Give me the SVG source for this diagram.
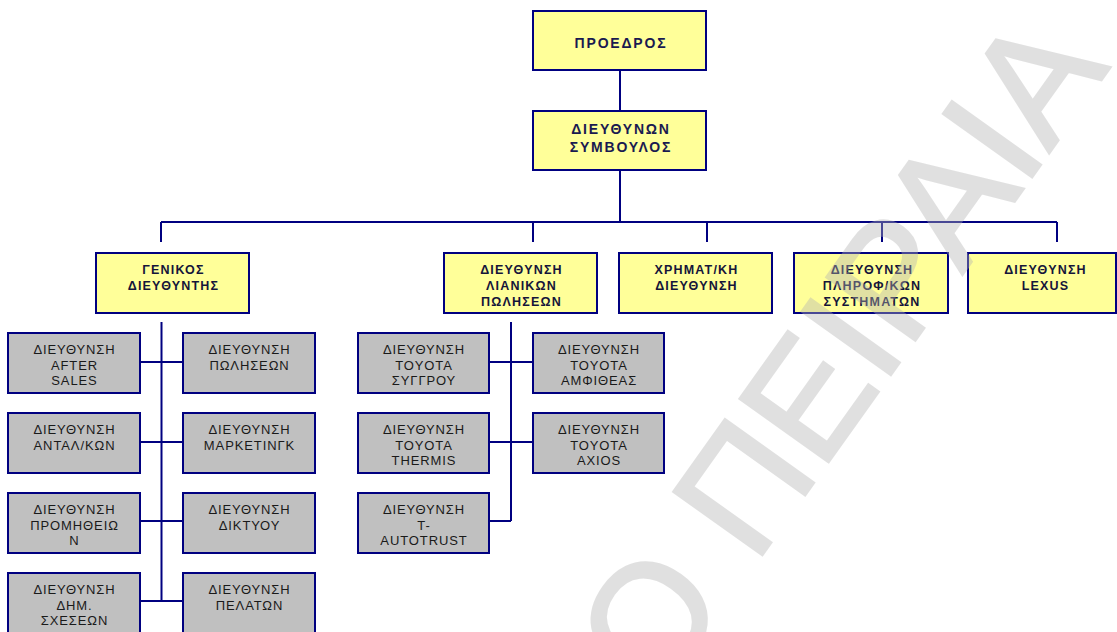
<svg xmlns="http://www.w3.org/2000/svg" width="1117" height="632" viewBox="0 0 1117 632">
<style>
.y{fill:#ffff99;stroke:#000080;stroke-width:2}
.g{fill:#c0c0c0;stroke:#000080;stroke-width:2}
.c{stroke:#000080;stroke-width:2;fill:none}
.t1{font-family:"Liberation Sans",Arial,sans-serif;font-weight:bold;font-size:14px;letter-spacing:1.8px;fill:#1a1a50;text-anchor:middle}
.t2{font-family:"Liberation Sans",Arial,sans-serif;font-weight:bold;font-size:12.5px;letter-spacing:1.2px;fill:#15153a;text-anchor:middle}
.t3{font-family:"Liberation Sans",Arial,sans-serif;font-size:13px;letter-spacing:0.9px;fill:#1a1a1a;text-anchor:middle}
.wm{font-family:"Liberation Sans",Arial,sans-serif;font-size:158px;fill:#b4b4b4;stroke:#b4b4b4;stroke-width:3;opacity:0.4}
</style>
<rect width="1117" height="632" fill="#ffffff"/>
<g id="connectors">
<path class="c" d="M620 70V111M620 170V222M161 222H1057M161 222V242M533 222V242M707 222V242M882 222V242M1057 222V242"/>
<path class="c" d="M161.5 322V601M140 362H183M140 442H183M140 521H183M140 601H183"/>
<path class="c" d="M511 322V521M489 362H533M489 442H533M489 521H511"/>
</g>
<g id="n-proedros"><rect class="y" x="533" y="11" width="173" height="59"/><text class="t1" x="621" y="48">ΠΡΟΕΔΡΟΣ</text></g>
<g id="n-ceo"><rect class="y" x="533" y="111" width="173" height="59"/><text class="t1" x="621" y="133.5">ΔΙΕΥΘΥΝΩΝ</text><text class="t1" x="621" y="151.5">ΣΥΜΒΟΥΛΟΣ</text></g>
<g id="n-genikos"><rect class="y" x="96" y="253" width="153" height="60"/><text class="t2" x="173.5" y="274">ΓΕΝΙΚΟΣ</text><text class="t2" x="173.5" y="290">ΔΙΕΥΘΥΝΤΗΣ</text></g>
<g id="n-lianikon"><rect class="y" x="444" y="253" width="153" height="60"/><text class="t2" x="521.5" y="274">ΔΙΕΥΘΥΝΣΗ</text><text class="t2" x="521.5" y="290">ΛΙΑΝΙΚΩΝ</text><text class="t2" x="521.5" y="306">ΠΩΛΗΣΕΩΝ</text></g>
<g id="n-xrimat"><rect class="y" x="619" y="253" width="153" height="60"/><text class="t2" x="696.5" y="274">ΧΡΗΜΑΤ/ΚΗ</text><text class="t2" x="696.5" y="290">ΔΙΕΥΘΥΝΣΗ</text></g>
<g id="n-pliroforikon"><rect class="y" x="794" y="253" width="154" height="60"/><text class="t2" x="872" y="274">ΔΙΕΥΘΥΝΣΗ</text><text class="t2" x="872" y="290">ΠΛΗΡΟΦ/ΚΩΝ</text><text class="t2" x="872" y="306">ΣΥΣΤΗΜΑΤΩΝ</text></g>
<g id="n-lexus"><rect class="y" x="968" y="253" width="148" height="60"/><text class="t2" x="1045.5" y="274">ΔΙΕΥΘΥΝΣΗ</text><text class="t2" x="1045.5" y="290">LEXUS</text></g>

<g id="n-aftersales"><rect class="g" x="8" y="333" width="132" height="60"/><text class="t3" x="74.5" y="354">ΔΙΕΥΘΥΝΣΗ</text><text class="t3" x="74.5" y="370">AFTER</text><text class="t3" x="74.5" y="385">SALES</text></g>
<g id="n-antalkon"><rect class="g" x="8" y="413" width="132" height="60"/><text class="t3" x="74.5" y="434">ΔΙΕΥΘΥΝΣΗ</text><text class="t3" x="74.5" y="450">ΑΝΤΑΛ/ΚΩΝ</text></g>
<g id="n-promitheion"><rect class="g" x="8" y="493" width="132" height="60"/><text class="t3" x="74.5" y="514">ΔΙΕΥΘΥΝΣΗ</text><text class="t3" x="74.5" y="530">ΠΡΟΜΗΘΕΙΩ</text><text class="t3" x="74.5" y="545">Ν</text></g>
<g id="n-dimsxeseon"><rect class="g" x="8" y="573" width="132" height="60"/><text class="t3" x="74.5" y="594">ΔΙΕΥΘΥΝΣΗ</text><text class="t3" x="74.5" y="610">ΔΗΜ.</text><text class="t3" x="74.5" y="625">ΣΧΕΣΕΩΝ</text></g>
<g id="n-poliseon"><rect class="g" x="183" y="333" width="132" height="60"/><text class="t3" x="249.5" y="354">ΔΙΕΥΘΥΝΣΗ</text><text class="t3" x="249.5" y="370">ΠΩΛΗΣΕΩΝ</text></g>
<g id="n-marketing"><rect class="g" x="183" y="413" width="132" height="60"/><text class="t3" x="249.5" y="434">ΔΙΕΥΘΥΝΣΗ</text><text class="t3" x="249.5" y="450">ΜΑΡΚΕΤΙΝΓΚ</text></g>
<g id="n-diktyou"><rect class="g" x="183" y="493" width="132" height="60"/><text class="t3" x="249.5" y="514">ΔΙΕΥΘΥΝΣΗ</text><text class="t3" x="249.5" y="530">ΔΙΚΤΥΟΥ</text></g>
<g id="n-pelaton"><rect class="g" x="183" y="573" width="132" height="60"/><text class="t3" x="249.5" y="594">ΔΙΕΥΘΥΝΣΗ</text><text class="t3" x="249.5" y="610">ΠΕΛΑΤΩΝ</text></g>

<g id="n-syggrou"><rect class="g" x="358" y="333" width="131" height="60"/><text class="t3" x="424" y="354">ΔΙΕΥΘΥΝΣΗ</text><text class="t3" x="424" y="370">TOYOTA</text><text class="t3" x="424" y="385">ΣΥΓΓΡΟΥ</text></g>
<g id="n-thermis"><rect class="g" x="358" y="413" width="131" height="60"/><text class="t3" x="424" y="434">ΔΙΕΥΘΥΝΣΗ</text><text class="t3" x="424" y="450">TOYOTA</text><text class="t3" x="424" y="465">THERMIS</text></g>
<g id="n-autotrust"><rect class="g" x="358" y="493" width="131" height="60"/><text class="t3" x="424" y="514">ΔΙΕΥΘΥΝΣΗ</text><text class="t3" x="424" y="530">T-</text><text class="t3" x="424" y="545">AUTOTRUST</text></g>
<g id="n-amfitheas"><rect class="g" x="533" y="333" width="131" height="60"/><text class="t3" x="599" y="354">ΔΙΕΥΘΥΝΣΗ</text><text class="t3" x="599" y="370">TOYOTA</text><text class="t3" x="599" y="385">ΑΜΦΙΘΕΑΣ</text></g>
<g id="n-axios"><rect class="g" x="533" y="413" width="131" height="60"/><text class="t3" x="599" y="434">ΔΙΕΥΘΥΝΣΗ</text><text class="t3" x="599" y="450">TOYOTA</text><text class="t3" x="599" y="465">AXIOS</text></g>

<text class="wm" transform="translate(658 701) rotate(-54.5)">Ο ΠΕΙΡΑΙΑ</text>
</svg>
